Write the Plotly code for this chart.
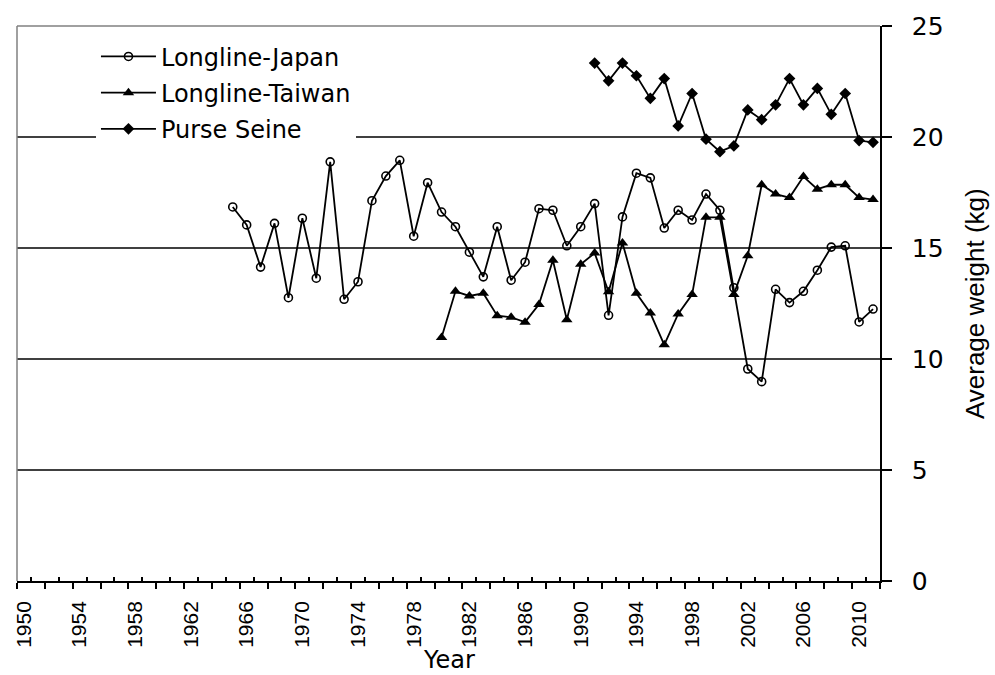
import plotly.graph_objects as go

# ---- data ----
years_japan = list(range(1965, 2012))
japan = [16.85, 16.04, 14.14, 16.11, 12.76, 16.34, 13.64, 18.88, 12.69, 13.48,
         17.13, 18.24, 18.95, 15.53, 17.94, 16.62, 15.96, 14.81, 13.70, 15.96,
         13.55, 14.36, 16.77, 16.70, 15.10, 15.96, 17.00, 11.97, 16.40, 18.37,
         18.16, 15.90, 16.70, 16.26, 17.43, 16.70, 13.21, 9.55, 8.98, 13.14,
         12.54, 13.05, 14.00, 15.04, 15.10, 11.67, 12.25]

years_taiwan = list(range(1980, 2012))
taiwan = [10.97, 13.05, 12.84, 12.96, 11.95, 11.88, 11.66, 12.46, 14.45, 11.77,
          14.27, 14.77, 13.03, 15.23, 12.96, 12.07, 10.64, 12.03, 12.90, 16.38,
          16.38, 12.91, 14.65, 17.85, 17.43, 17.27, 18.22, 17.65, 17.85, 17.85,
          17.27, 17.18]

years_purse = list(range(1991, 2012))
purse = [23.33, 22.53, 23.33, 22.76, 21.74, 22.63, 20.50, 21.96, 19.90, 19.34,
         19.60, 21.22, 20.78, 21.45, 22.63, 21.45, 22.19, 21.02, 21.96, 19.84,
         19.76]

first_year, last_year = 1950, 2011
label_years = list(range(1950, 2011, 4))
y_ticks = [0, 5, 10, 15, 20, 25]
grid_levels = [5, 10, 15, 20]

series_names = ["Longline-Japan", "Longline-Taiwan", "Purse Seine"]

fig = go.Figure()
fig.add_trace(go.Scatter(
    x=years_japan, y=japan, name=series_names[0], mode="lines+markers",
    line=dict(color="black", width=1.8),
    marker=dict(symbol="circle-open", size=8, color="black", line=dict(width=1.6)),
    legendgroup="a"))
fig.add_trace(go.Scatter(
    x=years_taiwan, y=taiwan, name=series_names[1], mode="lines+markers",
    line=dict(color="black", width=1.8),
    marker=dict(symbol="triangle-up", size=10, color="black"),
    legendgroup="b"))
fig.add_trace(go.Scatter(
    x=years_purse, y=purse, name=series_names[2], mode="lines+markers",
    line=dict(color="black", width=1.8),
    marker=dict(symbol="diamond", size=9, color="black"),
    legendgroup="c"))
# helper trace so the second x axis (inside ticks) is drawn
fig.add_trace(go.Scatter(x=[], y=[], xaxis="x2", showlegend=False, hoverinfo="skip"))

xr = [first_year - 0.5, last_year + 0.5]

fig.update_layout(
    width=995, height=675,
    margin=dict(l=13, r=115, t=24, b=94),
    paper_bgcolor="white", plot_bgcolor="white",
    showlegend=True,
    legend=dict(
        x=0.0915, xanchor="left", y=0.985, yanchor="top",
        bgcolor="white", borderwidth=0,
        font=dict(family="DejaVu Sans", size=24, color="black"),
        itemwidth=55, tracegroupgap=2, traceorder="grouped"),
    xaxis=dict(
        range=xr, tickmode="array", tickvals=label_years,
        ticktext=[str(y) for y in label_years], tickangle=-90,
        ticks="", showline=True, linecolor="black", linewidth=1.5,
        showgrid=False, zeroline=False,
        tickfont=dict(family="Liberation Sans", size=21, color="black"),
        ticklabelstandoff=10,
        minor=dict(ticks="outside", tickmode="linear", tick0=first_year - 0.5,
                   dtick=2, ticklen=6, tickcolor="black", tickwidth=1.5,
                   showgrid=False)),
    xaxis2=dict(
        range=xr, overlaying="x", anchor="y", side="bottom",
        tickmode="linear", tick0=first_year + 0.5, dtick=2,
        ticks="inside", ticklen=4, tickcolor="black", tickwidth=1.5,
        showticklabels=False, showline=False, showgrid=False, zeroline=False),
    yaxis=dict(
        range=[0, 25], side="right", tickmode="array", tickvals=y_ticks,
        ticks="outside", ticklen=10, tickcolor="black", tickwidth=1.5,
        showline=True, linecolor="black", linewidth=1.5,
        showgrid=False, zeroline=False,
        tickfont=dict(family="DejaVu Sans", size=25, color="black"),
        ticklabelstandoff=15),
)

for v in grid_levels:
    fig.add_shape(type="line", xref="x domain", yref="y", x0=0, x1=1, y0=v, y1=v,
                  line=dict(color="black", width=1.5), layer="below")
# gray frame on top and left
fig.add_shape(type="line", xref="x domain", yref="y domain", x0=0, x1=1, y0=1, y1=1,
              line=dict(color="#808080", width=1.5), layer="below")
fig.add_shape(type="line", xref="x domain", yref="y domain", x0=0, x1=0, y0=0, y1=1,
              line=dict(color="#808080", width=1.5), layer="below")

fig.add_annotation(text="Average weight (kg)", xref="paper", yref="paper",
                   x=1.1096, y=0.5, xanchor="center", yanchor="middle",
                   textangle=-90, showarrow=False,
                   font=dict(family="Liberation Sans", size=26, color="black"))
fig.add_annotation(text="Year", xref="paper", yref="paper",
                   x=0.5, y=-0.143, xanchor="center", yanchor="middle",
                   showarrow=False,
                   font=dict(family="DejaVu Sans", size=24, color="black"))

fig.write_html("out.html",
               config={"displayModeBar": False},
               post_script="document.body.style.margin='0';"
                           "document.body.style.overflow='hidden';")
